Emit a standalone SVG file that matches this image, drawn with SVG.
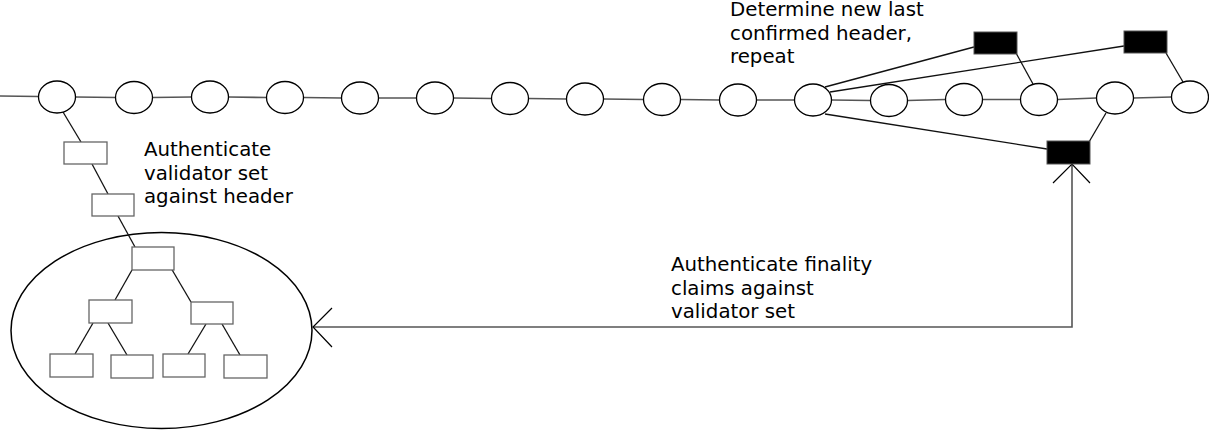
<svg xmlns="http://www.w3.org/2000/svg" width="1209" height="430" viewBox="0 0 1209 430">
<style>
.blk{fill:#fff;stroke:#000;stroke-width:1.3}
.box{fill:#fff;stroke:#666;stroke-width:1.3}
.fill{fill:#000;stroke:#555;stroke-width:1}
.ln{stroke:#111;stroke-width:1.3;fill:none}
.gl{stroke:#555;stroke-width:1.6;fill:none}
.ah{stroke:#000;stroke-width:1.2;fill:none}
text{font-family:"DejaVu Sans",sans-serif;font-size:19.8px;fill:#000}
</style>
<g id="validator-set">
<ellipse cx="161.5" cy="330.5" rx="150.5" ry="98" fill="#fff" stroke="#000" stroke-width="1.5"/>
</g>
<g id="connectors">
<line class="gl" x1="0" y1="96" x2="38.5" y2="96.5"/>
<line class="gl" x1="75.5" y1="97" x2="115.5" y2="97.5"/>
<line class="gl" x1="152.5" y1="97.5" x2="191.5" y2="97"/>
<line class="gl" x1="228.5" y1="97" x2="266.5" y2="97.5"/>
<line class="gl" x1="303.5" y1="97.5" x2="341.5" y2="98"/>
<line class="gl" x1="378.5" y1="98" x2="416.5" y2="98"/>
<line class="gl" x1="453.5" y1="98" x2="491.5" y2="98.5"/>
<line class="gl" x1="528.5" y1="98.5" x2="566.5" y2="99"/>
<line class="gl" x1="603.5" y1="99" x2="643.5" y2="99.5"/>
<line class="gl" x1="680.5" y1="99.5" x2="719.5" y2="100"/>
<line class="gl" x1="756.5" y1="100" x2="794.5" y2="100"/>
<line class="gl" x1="831.5" y1="100" x2="870.5" y2="100.5"/>
<line class="gl" x1="907.5" y1="100.5" x2="945.5" y2="99.5"/>
<line class="gl" x1="982.5" y1="99.5" x2="1020.5" y2="99.5"/>
<line class="gl" x1="1057.5" y1="99.5" x2="1096.5" y2="98"/>
<line class="gl" x1="1133.5" y1="98" x2="1171.5" y2="97"/>
<line class="ln" x1="825" y1="87" x2="974" y2="47"/>
<line class="ln" x1="830" y1="92" x2="1124" y2="46"/>
<line class="ln" x1="825" y1="114" x2="1047" y2="149"/>
<line class="ln" x1="1016" y1="53" x2="1033" y2="84"/>
<line class="ln" x1="1166" y1="53" x2="1183" y2="82"/>
<line class="ln" x1="1089" y1="142" x2="1106" y2="113"/>
<line class="ln" x1="63" y1="112" x2="81" y2="142"/>
<line class="ln" x1="92" y1="164" x2="108" y2="194"/>
<line class="ln" x1="118" y1="216" x2="135" y2="247"/>
<line class="ln" x1="132" y1="270" x2="115" y2="300"/>
<line class="ln" x1="171" y1="268" x2="191" y2="302"/>
<line class="ln" x1="93" y1="323" x2="75" y2="354"/>
<line class="ln" x1="108" y1="323" x2="127" y2="355"/>
<line class="ln" x1="206" y1="324" x2="188" y2="354"/>
<line class="ln" x1="222" y1="324" x2="240" y2="355"/>
<polyline class="gl" points="1072,164 1072,327 313,327"/>
<polyline class="ah" points="1053,183 1072,164 1090,183"/>
<polyline class="ah" points="332,308 313,327 332,347"/>
</g>
<g id="chain">
<ellipse class="blk" cx="57" cy="97" rx="18.5" ry="16"/>
<ellipse class="blk" cx="134" cy="97.5" rx="18.5" ry="16"/>
<ellipse class="blk" cx="210" cy="97" rx="18.5" ry="16"/>
<ellipse class="blk" cx="285" cy="97.5" rx="18.5" ry="16"/>
<ellipse class="blk" cx="360" cy="98" rx="18.5" ry="16"/>
<ellipse class="blk" cx="435" cy="98" rx="18.5" ry="16"/>
<ellipse class="blk" cx="510" cy="98.5" rx="18.5" ry="16"/>
<ellipse class="blk" cx="585" cy="99" rx="18.5" ry="16"/>
<ellipse class="blk" cx="662" cy="99.5" rx="18.5" ry="16"/>
<ellipse class="blk" cx="738" cy="100" rx="18.5" ry="16"/>
<ellipse class="blk" cx="813" cy="100" rx="18.5" ry="16"/>
<ellipse class="blk" cx="889" cy="100.5" rx="18.5" ry="16"/>
<ellipse class="blk" cx="964" cy="99.5" rx="18.5" ry="16"/>
<ellipse class="blk" cx="1039" cy="99.5" rx="18.5" ry="16"/>
<ellipse class="blk" cx="1115" cy="98" rx="18.5" ry="16"/>
<ellipse class="blk" cx="1190" cy="97" rx="18.5" ry="16"/>
</g>
<g id="finality-claims">
<rect class="fill" x="974" y="32" width="43" height="22"/>
<rect class="fill" x="1124" y="31" width="43" height="22"/>
<rect class="fill" x="1047" y="141" width="43" height="23"/>
</g>
<g id="proof-path">
<rect class="box" x="64" y="142" width="43" height="22"/>
<rect class="box" x="92" y="194" width="42" height="22"/>
</g>
<g id="tree">
<rect class="box" x="132" y="247" width="42" height="23"/>
<rect class="box" x="89" y="300" width="43" height="23"/>
<rect class="box" x="191" y="302" width="42" height="22"/>
<rect class="box" x="50" y="354" width="43" height="23"/>
<rect class="box" x="111" y="355" width="42" height="23"/>
<rect class="box" x="163" y="354" width="42" height="23"/>
<rect class="box" x="224" y="355" width="43" height="23"/>
</g>
<g id="labels">
<text x="144" y="156">Authenticate</text>
<text x="144" y="179.5">validator set</text>
<text x="144" y="203">against header</text>
<text x="730" y="16">Determine new last</text>
<text x="730" y="39.5">confirmed header,</text>
<text x="730" y="63">repeat</text>
<text x="671" y="271">Authenticate finality</text>
<text x="671" y="294.5">claims against</text>
<text x="671" y="318">validator set</text>
</g>
</svg>
